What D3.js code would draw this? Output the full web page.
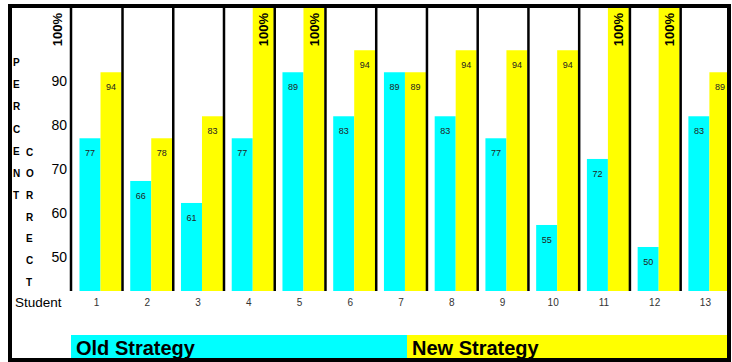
<!DOCTYPE html>
<html>
<head>
<meta charset="utf-8">
<script src="https://cdn.jsdelivr.net/npm/d3@7"></script>
<style>
  body { margin: 0; background: #fff; }
  svg { display: block; font-family: "Liberation Sans", Arial, sans-serif; }
</style>
</head>
<body>
<svg id="mainSvg" width="732" height="362"></svg>
<script>
// student numbers along the bottom
var students = ["1","2","3","4","5","6","7","8","9","10","11","12","13"];

// bar heights as read against the printed axis
var oldValues = [77, 67.3, 62.3, 77, 92, 82, 92, 82, 77, 57.3, 72.3, 52.3, 82];
var newValues = [92, 77, 82, 106.6, 106.6, 97, 92, 97, 97, 97, 106.6, 106.6, 92];

// numbers printed in the bars
var oldLabels = ["77","66","61","77","89","83","89","83","77","55","72","50","83"];
var newLabels = ["94","78","83","100%","100%","94","89","94","94","94","100%","100%","89"];

var yTicks = [50, 60, 70, 80, 90];
var seriesNames = ["Old Strategy", "New Strategy"];
var seriesColors = ["#00ffff", "#ffff00"];

var plotTop = 8, plotBottom = 291, plotLeft = 71;

var svg = d3.select("#mainSvg");

var x = d3.scaleBand()
    .domain(students)
    .range([79.5, 730.4])
    .paddingInner(0.172)
    .paddingOuter(0);

var x1 = d3.scaleBand()
    .domain(seriesNames)
    .range([0, x.bandwidth()]);

var y = d3.scaleLinear()
    .domain([42.3, 106.6])
    .range([plotBottom, plotTop]);

var rows = students.map(function(s, i) {
  return [
    { student: s, series: seriesNames[0], value: oldValues[i], label: oldLabels[i], color: seriesColors[0] },
    { student: s, series: seriesNames[1], value: newValues[i], label: newLabels[i], color: seriesColors[1] }
  ];
});
var bars = [].concat.apply([], rows);

// bars
svg.append("g").selectAll("rect")
  .data(bars)
  .enter().append("rect")
  .attr("x", function(d) { return x(d.student) + x1(d.series); })
  .attr("width", x1.bandwidth())
  .attr("y", function(d) { return y(d.value); })
  .attr("height", function(d) { return plotBottom - y(d.value); })
  .attr("fill", function(d) { return d.color; });

// black separators at the right of each student
var grid = svg.append("g").attr("stroke", "#000").attr("stroke-width", 2.5);
grid.append("line")
  .attr("x1", plotLeft).attr("x2", plotLeft)
  .attr("y1", plotTop).attr("y2", plotBottom);
grid.selectAll(".sep")
  .data(students.slice(0, 12))
  .enter().append("line")
  .attr("class", "sep")
  .attr("x1", function(d) { return x(d) + x.bandwidth() + 1; })
  .attr("x2", function(d) { return x(d) + x.bandwidth() + 1; })
  .attr("y1", plotTop).attr("y2", plotBottom);

// value labels
svg.append("g").selectAll("text")
  .data(bars.filter(function(d) { return d.label != "100%"; }))
  .enter().append("text")
  .attr("x", function(d) { return x(d.student) + x1(d.series) + x1.bandwidth() / 2; })
  .attr("y", function(d) { return y(d.value) + 18; })
  .attr("text-anchor", "middle")
  .attr("font-size", "9px")
  .attr("fill", "#222")
  .text(function(d) { return d.label; });

svg.append("g").selectAll("text")
  .data(bars.filter(function(d) { return d.label == "100%"; }))
  .enter().append("text")
  .attr("transform", function(d) {
    return "translate(" + (x(d.student) + x1(d.series) + x1.bandwidth() / 2 + 5) + "," + (plotTop + 5) + ") rotate(-90)";
  })
  .attr("text-anchor", "end")
  .attr("font-size", "13px")
  .attr("font-weight", "bold")
  .text(function(d) { return d.label; });

// y axis numbers
var yAxis = svg.append("g")
  .attr("transform", "translate(67,0)")
  .call(d3.axisLeft(y).tickValues(yTicks).tickSize(0).tickPadding(0));
yAxis.select(".domain").remove();
yAxis.selectAll("text")
  .attr("font-size", "14px")
  .attr("font-family", "Liberation Sans, Arial, sans-serif")
  .attr("fill", "#000");

svg.append("text")
  .attr("transform", "translate(62," + (plotTop + 5) + ") rotate(-90)")
  .attr("text-anchor", "end")
  .attr("font-size", "13px")
  .attr("font-weight", "bold")
  .text("100%");

// stacked axis title
var word1 = "PERCENT".split(""), word2 = "CORRECT".split("");
svg.append("g").selectAll("text")
  .data(word1)
  .enter().append("text")
  .attr("x", 13)
  .attr("y", function(d, i) { return 66 + i * 22.2; })
  .attr("font-size", "10px")
  .attr("font-weight", "bold")
  .text(function(d) { return d; });
svg.append("g").selectAll("text")
  .data(word2)
  .enter().append("text")
  .attr("x", 26)
  .attr("y", function(d, i) { return 155.5 + i * 21.7; })
  .attr("font-size", "10px")
  .attr("font-weight", "bold")
  .text(function(d) { return d; });

// student row
svg.append("text")
  .attr("x", 15).attr("y", 307)
  .attr("font-size", "13.5px")
  .text("Student");
svg.append("g").selectAll("text")
  .data(students)
  .enter().append("text")
  .attr("x", function(d) { return x(d) + x.bandwidth() / 2 - 4; })
  .attr("y", 306)
  .attr("text-anchor", "middle")
  .attr("font-size", "10px")
  .attr("fill", "#333")
  .text(function(d) { return d; });

// legend strip
var legendSplit = 407;
var legend = svg.append("g");
legend.append("rect").attr("x", plotLeft).attr("y", 335)
  .attr("width", legendSplit - plotLeft).attr("height", 25).attr("fill", seriesColors[0]);
legend.append("rect").attr("x", legendSplit).attr("y", 335)
  .attr("width", 729 - legendSplit).attr("height", 25).attr("fill", seriesColors[1]);
legend.append("text").attr("x", plotLeft + 5).attr("y", 355)
  .attr("font-size", "20px").attr("font-weight", "bold").text(seriesNames[0]);
legend.append("text").attr("x", legendSplit + 5).attr("y", 355)
  .attr("font-size", "20px").attr("font-weight", "bold").text(seriesNames[1]);

// frame
svg.append("rect")
  .attr("x", 10).attr("y", 6)
  .attr("width", 719).attr("height", 354)
  .attr("fill", "none")
  .attr("stroke", "#000")
  .attr("stroke-width", 4);
</script>
</body>
</html>
